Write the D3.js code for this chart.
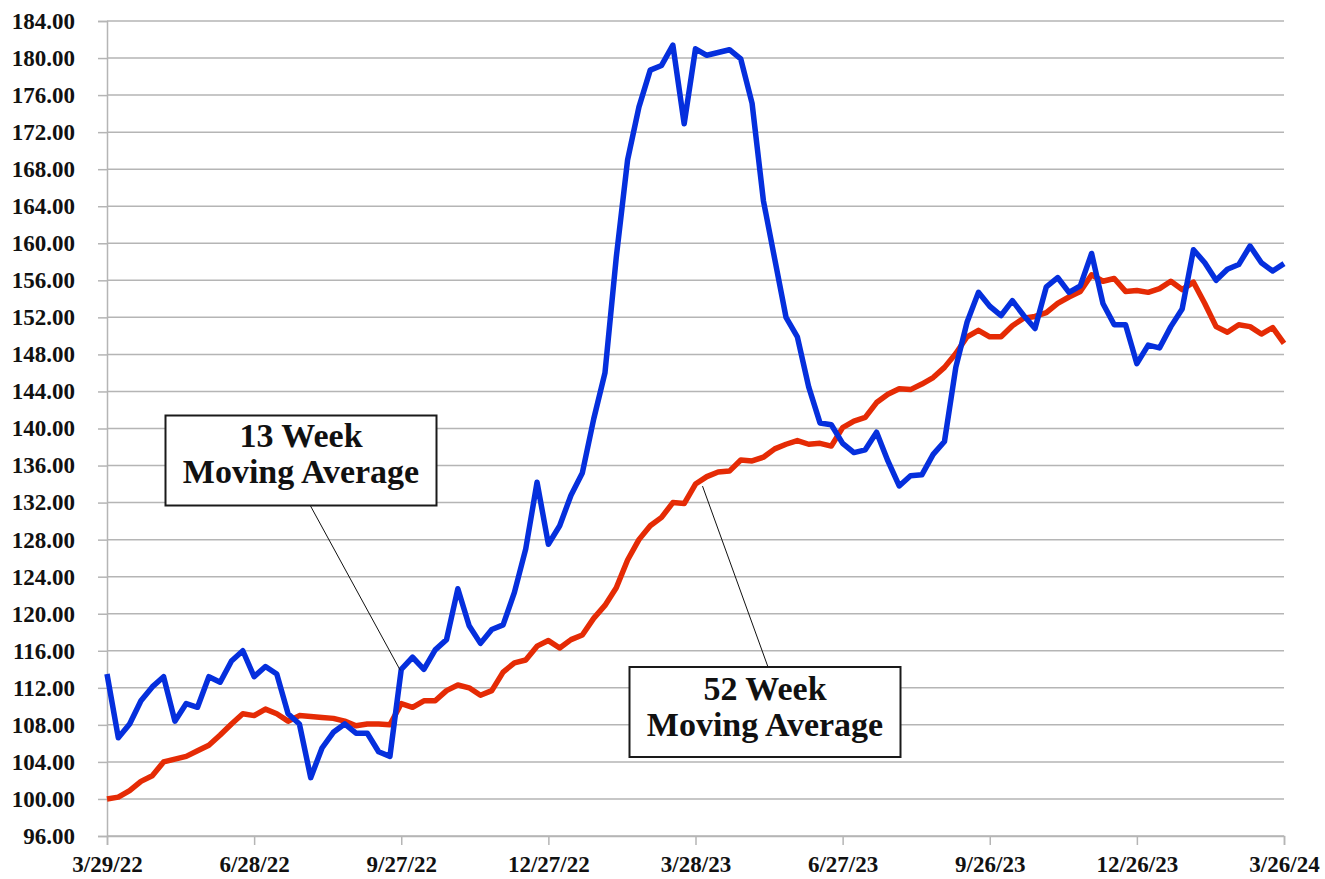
<!DOCTYPE html>
<html>
<head>
<meta charset="utf-8">
<script src="https://cdn.jsdelivr.net/npm/d3@7"></script>
<style>
  body { margin: 0; background: #fff; }
  svg text { font-family: "Palatino Linotype", "Book Antiqua", Palatino, "Liberation Serif", serif; font-weight: bold; fill: #111; }
</style>
</head>
<body>
<div id="chart"></div>
<script>
// weekly readings, first week 3/29/22, last week 3/26/24
var startDate = "3/29/22";

var avg13 = [113.5, 106.6, 108.1, 110.6, 112.1, 113.2, 108.4, 110.3, 109.9, 113.2,
  112.6, 114.9, 116.0, 113.2, 114.3, 113.5, 109.2, 108.1, 102.3, 105.5,
  107.2, 108.1, 107.1, 107.1, 105.1, 104.6, 114.0, 115.3, 114.0, 116.1,
  117.2, 122.7, 118.7, 116.8, 118.3, 118.8, 122.3, 127.0, 134.2, 127.5,
  129.5, 132.8, 135.2, 141.0, 146.0, 158.5, 169.0, 174.7, 178.7, 179.2,
  181.4, 172.9, 181.0, 180.3, 180.6, 180.9, 179.9, 175.1, 164.6, 158.3,
  152.0, 149.9, 144.5, 140.6, 140.4, 138.4, 137.4, 137.7, 139.6, 136.5,
  133.8, 134.9, 135.0, 137.2, 138.6, 146.6, 151.5, 154.7, 153.2, 152.2,
  153.8, 152.2, 150.8, 155.3, 156.3, 154.7, 155.4, 158.9, 153.5, 151.2,
  151.2, 147.0, 149.0, 148.7, 151.0, 152.9, 159.3, 157.9, 156.0, 157.2,
  157.7, 159.7, 157.9, 157.0, 157.8];

var avg52 = [100.0, 100.2, 100.9, 101.9, 102.5, 104.0, 104.3, 104.6, 105.2, 105.8,
  106.9, 108.1, 109.2, 109.0, 109.7, 109.2, 108.4, 109.0, 108.9, 108.8,
  108.7, 108.4, 107.9, 108.1, 108.1, 108.0, 110.3, 109.9, 110.6, 110.6,
  111.7, 112.3, 112.0, 111.2, 111.7, 113.7, 114.7, 115.0, 116.5, 117.1,
  116.3, 117.2, 117.7, 119.5, 120.9, 122.8, 125.8, 128.0, 129.5, 130.4,
  132.0, 131.9, 134.0, 134.8, 135.3, 135.4, 136.6, 136.5, 136.9, 137.8,
  138.3, 138.7, 138.3, 138.4, 138.1, 140.1, 140.8, 141.2, 142.8, 143.7,
  144.3, 144.2, 144.8, 145.5, 146.6, 148.1, 149.9, 150.6, 149.9, 149.9,
  151.1, 151.9, 152.1, 152.5, 153.5, 154.2, 154.8, 156.6, 155.9, 156.2,
  154.8, 154.9, 154.7, 155.1, 155.9, 155.0, 155.8, 153.5, 151.0, 150.4,
  151.2, 151.0, 150.2, 150.9, 149.2];

var xTickLabels = ["3/29/22", "6/28/22", "9/27/22", "12/27/22", "3/28/23",
  "6/27/23", "9/26/23", "12/26/23", "3/26/24"];
var yTickValues = [96, 100, 104, 108, 112, 116, 120, 124, 128, 132, 136, 140,
  144, 148, 152, 156, 160, 164, 168, 172, 176, 180, 184];

// callout labels: text lines, and the week each one points at
var label13 = ["13 Week", "Moving Average"], label13Week = 26;
var label52 = ["52 Week", "Moving Average"], label52Week = 52;

var W = 1325, H = 879;
var margin = { top: 21, right: 41, bottom: 43, left: 107 },
  width = W - margin.left - margin.right,
  height = H - margin.top - margin.bottom;

var fontStack = "\"Palatino Linotype\", \"Book Antiqua\", Palatino, \"Liberation Serif\", serif";

var parseDate = d3.timeParse("%m/%d/%y"),
  fmtDate = d3.timeFormat("%-m/%-d/%y");

var start = parseDate(startDate);
var dates = avg13.map(function (d, i) { return d3.timeDay.offset(start, 7 * i); });

var x = d3.scaleTime()
  .domain([dates[0], dates[dates.length - 1]])
  .range([0, width]);
var y = d3.scaleLinear()
  .domain([96, 184])
  .range([height, 0]);

var svg = d3.select("#chart").append("svg")
  .attr("width", W)
  .attr("height", H)
  .append("g")
  .attr("transform", "translate(" + margin.left + "," + margin.top + ")");

// horizontal grid
svg.append("g").selectAll("line")
  .data(yTickValues)
  .enter().append("line")
  .attr("x1", 0).attr("x2", width)
  .attr("y1", function (d) { return y(d); })
  .attr("y2", function (d) { return y(d); })
  .style("stroke", "#b5b5b5")
  .style("stroke-width", 1.5);

// y axis
var yAxis = svg.append("g")
  .call(d3.axisLeft(y).tickValues(yTickValues).tickFormat(d3.format(".2f"))
    .tickSize(9).tickPadding(23));
yAxis.selectAll("path, line").style("stroke", "#b5b5b5").style("stroke-width", 1.5);
yAxis.selectAll("text").style("font-size", "23px").style("font-family", fontStack)
  .style("font-weight", "bold").style("fill", "#111");

// x axis
var xAxis = svg.append("g")
  .attr("transform", "translate(0," + height + ")")
  .call(d3.axisBottom(x).tickValues(xTickLabels.map(parseDate)).tickFormat(fmtDate)
    .tickSize(9).tickPadding(11));
xAxis.selectAll("path, line").style("stroke", "#b5b5b5").style("stroke-width", 1.5);
xAxis.selectAll("text").style("font-size", "23px").style("font-family", fontStack)
  .style("font-weight", "bold").style("fill", "#111");

// the two lines
var line = d3.line()
  .x(function (d, i) { return x(dates[i]); })
  .y(function (d) { return y(d); });

svg.append("path")
  .datum(avg52)
  .attr("d", line)
  .style("fill", "none")
  .style("stroke", "#e52b05")
  .style("stroke-width", 5.5)
  .style("stroke-linejoin", "round");

svg.append("path")
  .datum(avg13)
  .attr("d", line)
  .style("fill", "none")
  .style("stroke", "#052fdd")
  .style("stroke-width", 5.5)
  .style("stroke-linejoin", "round");

// callout boxes with leader lines
function callout(lines, cx, cy, px, py, anchorX, anchorY, dy0) {
  var bw = 271, bh = 90;
  svg.append("line")
    .attr("x1", anchorX).attr("y1", anchorY)
    .attr("x2", px).attr("y2", py)
    .style("stroke", "#111").style("stroke-width", 1);
  var g = svg.append("g").attr("transform", "translate(" + cx + "," + cy + ")");
  g.append("rect")
    .attr("x", -bw / 2).attr("y", -bh / 2)
    .attr("width", bw).attr("height", bh)
    .style("fill", "#fff").style("stroke", "#1a1a1a").style("stroke-width", 2);
  g.selectAll("text")
    .data(lines)
    .enter().append("text")
    .attr("text-anchor", "middle")
    .attr("y", function (d, i) { return dy0 + i * 36; })
    .style("font-size", "34px")
    .text(function (d) { return d; });
}

// 13 week box sits upper-left of its point, 52 week box below-right of its point
callout(label13, 301 - margin.left, 460.5 - margin.top,
  x(dates[label13Week]) - 1, y(avg13[label13Week]) + 1,
  310 - margin.left, 505 - margin.top, -14);
callout(label52, 765 - margin.left, 712 - margin.top,
  x(dates[label52Week]) + 7, y(avg52[label52Week]) + 2,
  768 - margin.left, 667 - margin.top, -12);
</script>
</body>
</html>
